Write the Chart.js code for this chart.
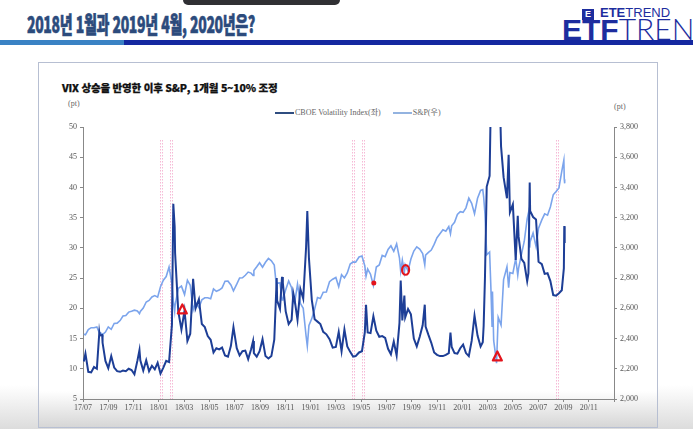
<!DOCTYPE html>
<html lang="ko">
<head>
<meta charset="utf-8">
<title>VIX 상승과 S&P</title>
<script src="https://cdn.jsdelivr.net/npm/chart.js@4.4.1/dist/chart.umd.min.js"></script>
<style>
  html, body { margin: 0; padding: 0; }
  body {
    width: 693px; height: 429px; position: relative; overflow: hidden;
    background: linear-gradient(to bottom, #ffffff 0px, #ffffff 385px, #dcdcdc 429px);
    font-family: "Noto Sans CJK KR", "Noto Sans", sans-serif;
  }
  .topbar { position: absolute; left: 183px; top: -6px; width: 157px; height: 11px; background: #303034; border-radius: 5px; }
  .title { position: absolute; left: 27px; top: 6px; font-size: 23px; font-weight: 900; color: #2c4b7c; -webkit-text-stroke: 0.6px #2c4b7c; letter-spacing: -0.6px; white-space: nowrap; transform-origin: left top; }
  .rule-a { position: absolute; left: 0; top: 40px; width: 124px; height: 5px; background: #3a82c4; }
  .rule-b { position: absolute; left: 124px; top: 40px; width: 569px; height: 5px; background: #1428a0; }
  .logo-top { position: absolute; left: 582px; top: 7px; font-size: 13px; line-height: 12px; color: #1d2d9e; white-space: nowrap; font-family: "Liberation Sans", sans-serif; }
  .logo-top .ico { display: inline-block; width: 12px; height: 11px; background: #1d2d9e; color: #fff; font-size: 9px; font-weight: 700; text-align: center; line-height: 11px; margin-right: 6px; }
  .logo-top b { font-weight: 700; }
  .logo-big { position: absolute; left: 562px; top: 13px; font-size: 30px; line-height: 30px; color: #1d2d9e; font-family: "Liberation Sans", sans-serif; white-space: nowrap; }
  .logo-big b { font-weight: 700; }
  .logo-big span { font-weight: 300; font-family: Lato, sans-serif; }
  .box { position: absolute; left: 38px; top: 62px; width: 618px; height: 364px; border: 1px solid #b7bfd2;
         background: linear-gradient(to bottom, #fff 0px, #fff 328px, #d6d6d6 364px); }
  .ctitle { position: absolute; left: 62px; top: 80px; font-size: 10.5px; font-weight: 900; color: #111; -webkit-text-stroke: 0.25px #111; white-space: nowrap; letter-spacing: -0.2px; }
  .unit { position: absolute; font-family: "Liberation Serif", serif; font-size: 8px; color: #666; }
  .legend { position: absolute; left: 275px; top: 106px; font-family: "Liberation Serif", "Noto Sans CJK KR", serif; font-size: 8px; color: #666; white-space: nowrap; }
  .legend i { display: inline-block; width: 19px; height: 2px; vertical-align: middle; margin-right: 1px; }
  #chart { position: absolute; left: 38px; top: 115px; }
</style>
</head>
<body>
<div class="topbar"></div>
<div class="title" id="title">2018년 1월과 2019년 4월, 2020년은?</div>
<div class="logo-top"><span class="ico">E</span><b>ETE</b>TREND</div>
<div class="logo-big"><b>ETF</b><span>TREN</span></div>
<div class="rule-a"></div>
<div class="rule-b"></div>
<div class="box"></div>
<div class="ctitle">VIX 상승을 반영한 이후 S&amp;P, 1개월 5~10% 조정</div>
<div class="unit" style="left:68px; top:99px;">(pt)</div>
<div class="unit" style="left:614px; top:102px;">(pt)</div>
<div class="legend">
  <i style="background:#2f4d80"></i>CBOE Volatility Index(좌)
  <i style="background:#93b3e0; margin-left:10px"></i>S&amp;P(우)
</div>
<canvas id="chart" width="619" height="305"></canvas>

<script>
// weekly closes plus a few spike days, one line per month
const dates = [
  '2017-07-03','2017-07-07','2017-07-14','2017-07-21','2017-07-28',
  '2017-08-04','2017-08-10','2017-08-11','2017-08-17','2017-08-18','2017-08-25',
  '2017-09-01','2017-09-08','2017-09-15','2017-09-22','2017-09-29',
  '2017-10-06','2017-10-13','2017-10-20','2017-10-27',
  '2017-11-03','2017-11-10','2017-11-15','2017-11-17','2017-11-24',
  '2017-12-01','2017-12-08','2017-12-15','2017-12-22','2017-12-29',
  '2018-01-05','2018-01-12','2018-01-19','2018-01-26',
  '2018-02-02','2018-02-05','2018-02-08','2018-02-09','2018-02-16','2018-02-23',
  '2018-03-02','2018-03-09','2018-03-16','2018-03-23','2018-03-29',
  '2018-04-06','2018-04-13','2018-04-20','2018-04-27',
  '2018-05-04','2018-05-11','2018-05-18','2018-05-25',
  '2018-06-01','2018-06-08','2018-06-15','2018-06-22','2018-06-28',
  '2018-07-06','2018-07-13','2018-07-20','2018-07-27',
  '2018-08-03','2018-08-10','2018-08-15','2018-08-17','2018-08-24','2018-08-31',
  '2018-09-07','2018-09-14','2018-09-21','2018-09-28',
  '2018-10-05','2018-10-11','2018-10-12','2018-10-19','2018-10-24','2018-10-26',
  '2018-11-02','2018-11-09','2018-11-16','2018-11-20','2018-11-23','2018-11-30',
  '2018-12-07','2018-12-14','2018-12-21','2018-12-24','2018-12-28',
  '2019-01-04','2019-01-11','2019-01-18','2019-01-25',
  '2019-02-01','2019-02-08','2019-02-15','2019-02-22',
  '2019-03-01','2019-03-08','2019-03-15','2019-03-22','2019-03-29',
  '2019-04-05','2019-04-12','2019-04-18','2019-04-26',
  '2019-05-03','2019-05-10','2019-05-13','2019-05-17','2019-05-24','2019-05-31',
  '2019-06-07','2019-06-14','2019-06-21','2019-06-28',
  '2019-07-05','2019-07-12','2019-07-19','2019-07-26',
  '2019-08-02','2019-08-05','2019-08-09','2019-08-14','2019-08-16','2019-08-23','2019-08-30',
  '2019-09-06','2019-09-13','2019-09-20','2019-09-27',
  '2019-10-02','2019-10-04','2019-10-11','2019-10-18','2019-10-25',
  '2019-11-01','2019-11-08','2019-11-15','2019-11-22','2019-11-29',
  '2019-12-03','2019-12-06','2019-12-13','2019-12-20','2019-12-27',
  '2020-01-03','2020-01-10','2020-01-17','2020-01-24','2020-01-31',
  '2020-02-07','2020-02-14','2020-02-19','2020-02-21','2020-02-24','2020-02-28',
  '2020-03-06','2020-03-09','2020-03-12','2020-03-13','2020-03-16','2020-03-20','2020-03-23','2020-03-27',
  '2020-04-03','2020-04-09','2020-04-17','2020-04-21','2020-04-24',
  '2020-05-01','2020-05-08','2020-05-13','2020-05-15','2020-05-22','2020-05-29',
  '2020-06-05','2020-06-08','2020-06-11','2020-06-12','2020-06-19','2020-06-26',
  '2020-07-02','2020-07-10','2020-07-17','2020-07-24','2020-07-31',
  '2020-08-07','2020-08-14','2020-08-21','2020-08-28',
  '2020-09-02','2020-09-03','2020-09-04'
];

const vix = [
  11.2, 12.5, 9.5, 9.4, 10.3,
  10.0, 16.0, 15.5, 15.6, 14.3, 11.3,
  10.1, 12.1, 10.2, 9.6, 9.5,
  9.7, 9.6, 10.0, 9.8,
  9.1, 11.3, 13.1, 11.4, 9.7,
  11.4, 9.6, 10.5, 9.9, 11.0,
  9.2, 10.2, 11.3, 11.1,
  17.3, 37.3, 33.5, 29.1, 19.5, 16.5,
  19.6, 14.6, 15.8, 24.9, 20.0,
  21.5, 17.4, 16.9, 15.4,
  14.8, 12.7, 13.4, 13.2,
  13.5, 12.2, 12.0, 13.8, 16.9,
  13.4, 12.2, 12.9, 13.0,
  11.6, 13.2, 14.6, 12.6, 12.0, 12.9,
  14.9, 12.1, 11.7, 12.1,
  14.8, 25.0, 21.3, 19.9, 25.2, 24.2,
  19.5, 17.4, 18.1, 22.5, 21.5, 18.1,
  23.2, 21.6, 30.1, 36.1, 28.3,
  21.4, 18.2, 17.8, 17.4,
  16.1, 15.7, 14.9, 13.5,
  13.6, 16.1, 12.9, 16.5, 13.7,
  12.8, 12.0, 12.1, 12.7,
  12.9, 16.0, 20.6, 16.0, 15.9, 18.7,
  16.3, 15.3, 15.4, 15.1,
  13.3, 12.4, 14.5, 12.2,
  17.6, 24.6, 18.0, 22.1, 18.5, 19.9, 19.0,
  15.0, 13.7, 15.3, 17.2,
  20.6, 17.0, 15.6, 14.3, 12.7,
  12.3, 12.1, 12.1, 12.3, 12.6,
  16.0, 13.6, 12.6, 12.5, 13.4,
  14.0, 12.6, 12.1, 14.6, 18.8,
  15.5, 13.7, 14.4, 17.1, 25.0, 40.1,
  41.9, 54.5, 75.5, 57.8, 82.7, 66.0, 61.6, 65.5,
  46.8, 41.7, 38.2, 45.4, 35.9,
  37.2, 28.0, 35.3, 31.9, 28.2, 27.5,
  24.5, 25.8, 40.8, 36.1, 35.1, 34.7,
  27.7, 27.3, 25.7, 25.8, 24.5,
  22.2, 22.1, 22.5, 23.0,
  26.6, 33.6, 30.8
];

const spx = [
  2429, 2425, 2459, 2472, 2472,
  2477, 2438, 2441, 2430, 2426, 2443,
  2477, 2461, 2500, 2502, 2519,
  2549, 2553, 2575, 2581,
  2588, 2582, 2565, 2579, 2602,
  2642, 2652, 2675, 2684, 2674,
  2743, 2786, 2810, 2873,
  2762, 2649, 2581, 2620, 2732, 2747,
  2691, 2786, 2752, 2588, 2641,
  2604, 2656, 2670, 2670,
  2663, 2728, 2713, 2721,
  2735, 2779, 2780, 2755, 2716,
  2760, 2801, 2802, 2819,
  2840, 2833, 2818, 2850, 2875, 2902,
  2872, 2905, 2930, 2914,
  2886, 2729, 2767, 2768, 2656, 2658,
  2723, 2781, 2736, 2641, 2633, 2760,
  2633, 2600, 2417, 2351, 2486,
  2532, 2596, 2671, 2665,
  2707, 2708, 2776, 2793,
  2804, 2743, 2822, 2801, 2834,
  2893, 2907, 2905, 2940,
  2946, 2881, 2812, 2860, 2826, 2752,
  2873, 2887, 2950, 2942,
  2990, 3014, 2977, 3026,
  2932, 2845, 2919, 2840, 2889, 2847, 2926,
  2979, 3007, 2992, 2962,
  2888, 2952, 2970, 2986, 3023,
  3067, 3093, 3120, 3110, 3141,
  3093, 3146, 3169, 3221, 3240,
  3235, 3265, 3330, 3295, 3226,
  3328, 3380, 3386, 3338, 3226, 2954,
  2972, 2747, 2481, 2711, 2386, 2305, 2237, 2541,
  2489, 2790, 2875, 2737, 2837,
  2831, 2930, 2820, 2864, 2955, 3044,
  3194, 3232, 3002, 3041, 3098, 3009,
  3130, 3185, 3225, 3216, 3271,
  3351, 3373, 3397, 3508,
  3580, 3455, 3427
];

const xTickLabels = ['17/07','17/09','17/11','18/01','18/03','18/05','18/07','18/09','18/11',
  '19/01','19/03','19/05','19/07','19/09','19/11','20/01','20/03','20/05','20/07','20/09','20/11'];

// pink dotted markers and the red hand marks on the screenshot
const guideDates = ['2018-01-07', '2018-01-30', '2019-04-12', '2019-05-05', '2020-08-17'];
const noteDates = ['2018-02-25', '2019-06-01', '2019-08-17', '2020-03-25'];
const noteValues = [2596, 2768, 2854, 2285];
const noteShapes = ['tri', 'dot', 'ring', 'tri'];

// months since 2017-07-01
function monthIndex(s) {
    const [y, m, d] = s.split('-').map(Number);
    const days = new Date(y, m, 0).getDate();
    return (y - 2017) * 12 + (m - 7) + (d - 1) / days;
}

const guideLines = {
    id: 'guideLines',
    beforeDatasetsDraw(chart) {
        const { ctx, chartArea, scales } = chart;
        ctx.save();
        ctx.strokeStyle = 'rgba(238,130,180,0.55)';
        ctx.lineWidth = 1;
        ctx.setLineDash([1.5, 1.5]);
        guideDates.forEach(d => {
            const x = Math.round(scales.x.getPixelForValue(monthIndex(d)));
            [x - 0.5, x + 1.5].forEach(px => {
                ctx.beginPath();
                ctx.moveTo(px, chartArea.top + 13);
                ctx.lineTo(px, chartArea.bottom);
                ctx.stroke();
            });
        });
        ctx.restore();
    }
};

const handMarks = {
    id: 'handMarks',
    afterDatasetsDraw(chart) {
        const { ctx, scales } = chart;
        ctx.save();
        ctx.strokeStyle = '#e3141c';
        ctx.fillStyle = '#e3141c';
        ctx.lineWidth = 2.2;
        ctx.lineJoin = 'round';
        noteDates.forEach((d, i) => {
            const x = scales.x.getPixelForValue(monthIndex(d));
            const y = scales.y1.getPixelForValue(noteValues[i]);
            ctx.beginPath();
            if (noteShapes[i] === 'tri') {
                ctx.moveTo(x - 4.5, y + 4.5);
                ctx.lineTo(x, y - 4.5);
                ctx.lineTo(x + 4.5, y + 4.5);
                ctx.closePath();
                ctx.stroke();
            } else if (noteShapes[i] === 'dot') {
                ctx.arc(x, y, 2.5, 0, Math.PI * 2);
                ctx.fill();
            } else {
                ctx.ellipse(x, y, 3.5, 4.8, 0, 0, Math.PI * 2);
                ctx.stroke();
            }
        });
        ctx.restore();
    }
};

const axisGrey = '#888';
const labelGrey = '#555';

const chartConfig = {
    type: 'line',
    data: {
        datasets: [{
            label: 'CBOE Volatility Index(좌)',
            data: dates.map((d, i) => ({ x: monthIndex(d), y: vix[i] })),
            yAxisID: 'y',
            borderColor: '#1d3e96',
            borderWidth: 2,
            pointRadius: 0,
            tension: 0
        }, {
            label: 'S&P(우)',
            data: dates.map((d, i) => ({ x: monthIndex(d), y: spx[i] })),
            yAxisID: 'y1',
            borderColor: '#7ba4ec',
            borderWidth: 1.6,
            pointRadius: 0,
            tension: 0
        }]
    },
    options: {
        responsive: false,
        animation: false,
        layout: { padding: { top: 12 } },
        plugins: {
            legend: { display: false },
            tooltip: { enabled: false }
        },
        scales: {
            x: {
                type: 'linear',
                min: 0,
                max: 42,
                ticks: {
                    stepSize: 2,
                    autoSkip: false,
                    maxRotation: 0,
                    color: labelGrey,
                    font: { size: 8 },
                    padding: 1,
                    callback: v => xTickLabels[v / 2] || ''
                },
                grid: { drawOnChartArea: false, tickLength: 3, tickColor: axisGrey },
                border: { color: axisGrey },
                afterFit: s => { s.height = 21; }
            },
            y: {
                position: 'left',
                min: 5,
                max: 50,
                ticks: { stepSize: 5, color: labelGrey, font: { size: 8 }, padding: 3 },
                grid: { drawOnChartArea: false, tickLength: 3, tickColor: axisGrey },
                border: { color: axisGrey },
                afterFit: s => { s.width = 45; }
            },
            y1: {
                position: 'right',
                min: 2000,
                max: 3800,
                ticks: {
                    stepSize: 200,
                    color: labelGrey,
                    font: { size: 8 },
                    padding: 3,
                    callback: v => v.toLocaleString('en-US')
                },
                grid: { drawOnChartArea: false, tickLength: 3, tickColor: axisGrey },
                border: { color: axisGrey },
                afterFit: s => { s.width = 43; }
            }
        }
    },
    plugins: [guideLines, handMarks]
};

Chart.defaults.font.family = '"Liberation Serif", "Noto Sans CJK KR", serif';
new Chart(document.getElementById('chart'), chartConfig);

// squeeze the headline to the width it has on the slide
const title = document.getElementById('title');
title.style.transform = 'scaleX(' + (228 / title.getBoundingClientRect().width) + ')';
</script>
</body>
</html>
